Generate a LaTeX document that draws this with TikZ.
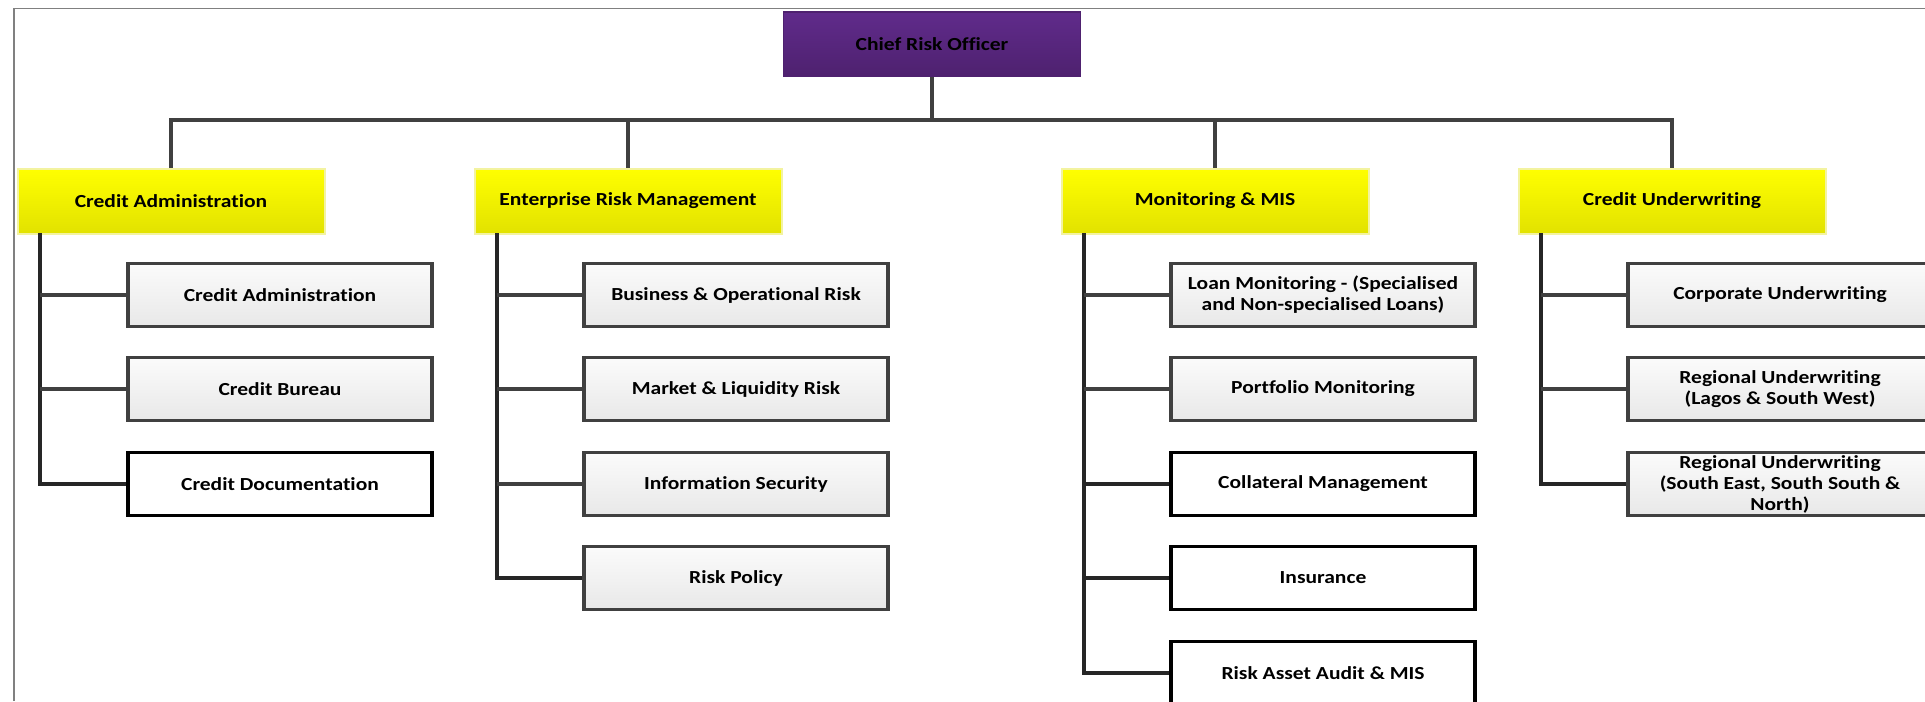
\documentclass[tikz,border=0pt]{standalone}
\usepackage{fontspec}
\setmainfont{Carlito}[FakeStretch=1.17,Ligatures=NoCommon]
\usepackage{tikz}
\definecolor{purpletop}{HTML}{602B8B}
\definecolor{purplebot}{HTML}{4E216F}
\definecolor{yellowtop}{HTML}{FFFF00}
\definecolor{yellowbot}{HTML}{E2E200}
\definecolor{yellowrim}{HTML}{F3F3A0}
\definecolor{graytop}{HTML}{FBFBFB}
\definecolor{graybot}{HTML}{E8E8E8}
\definecolor{linegray}{HTML}{404040}

\begin{document}
\begin{tikzpicture}[x=0.5pt,y=-0.5pt,
  font=\fontsize{9.2}{10.5}\selectfont\bfseries,
  officer/.style={minimum width=148.5pt,minimum height=32pt,inner sep=1pt,
    top color=purpletop,bottom color=purplebot,draw=purplebot,line width=0.6pt},
  dept/.style={minimum width=153.5pt,minimum height=32.5pt,inner sep=1pt,
    top color=yellowtop,bottom color=yellowbot,draw=yellowrim,line width=1pt},
  unit/.style={minimum width=152pt,minimum height=31.5pt,inner sep=1pt,align=center,
    top color=graytop,bottom color=graybot,draw=linegray,line width=1.7pt},
  plainunit/.style={unit,top color=white,bottom color=white,draw=black},
  link/.style={draw=linegray,line width=1.8pt},
  spine/.style={draw=black!85,line width=1.7pt}]
\useasboundingbox (0,0) rectangle (1925,701);
\clip (0,0) rectangle (1925,701);
\draw[gray,line width=0.8pt] (14,701) -- (14,8.5) -- (1925,8.5);

\node[officer] (cro) at (932,44) {Chief Risk Officer};

\node[dept] (ca)  at (171,201)  {Credit Administration};
\node[dept] (erm) at (628,201)  {Enterprise Risk Management};
\node[dept] (mon) at (1215,201) {Monitoring \& MIS};
\node[dept] (cu)  at (1672,201) {Credit Underwriting};

\coordinate (bus) at (932,120);
\draw[link] (cro.south) -- (bus);
\draw[link] (ca.north) |- (bus) -| (cu.north);
\draw[link] (erm.north) -- (erm.north |- bus);
\draw[link] (mon.north) -- (mon.north |- bus);

% credit administration
\node[unit] (ca1) at (280,295) {Credit Administration};
\node[unit] (ca2) at (280,389) {Credit Bureau};
\node[plainunit] (ca3) at (280,484) {Credit Documentation};

% enterprise risk management
\node[unit] (erm1) at (736,295) {Business \& Operational Risk};
\node[unit] (erm2) at (736,389) {Market \& Liquidity Risk};
\node[unit] (erm3) at (736,484) {Information Security};
\node[unit] (erm4) at (736,578) {Risk Policy};

% monitoring & MIS
\node[unit] (mon1) at (1323,295) {Loan Monitoring - (Specialised\\and Non-specialised Loans)};
\node[unit] (mon2) at (1323,389) {Portfolio Monitoring};
\node[plainunit] (mon3) at (1323,484) {Collateral Management};
\node[plainunit] (mon4) at (1323,578) {Insurance};
\node[plainunit] (mon5) at (1323,673) {Risk Asset Audit \& MIS};

% credit underwriting
\node[unit] (cu1) at (1780,295) {Corporate Underwriting};
\node[unit] (cu2) at (1780,389) {Regional Underwriting\\(Lagos \& South West)};
\node[unit] (cu3) at (1780,484) {Regional Underwriting\\(South East, South South \&\\North)};

\coordinate (casp)  at (40,233);
\coordinate (ermsp) at (497,233);
\coordinate (monsp) at (1084,233);
\coordinate (cusp)  at (1541,233);

\draw[spine] (casp) |- (ca3.west);
\draw[spine] (ermsp) |- (erm4.west);
\draw[spine] (monsp) |- (mon5.west);
\draw[spine] (cusp) |- (cu3.west);

\foreach \u/\s in {ca1/casp,ca2/casp,erm1/ermsp,erm2/ermsp,erm3/ermsp,mon1/monsp,mon2/monsp,cu1/cusp,cu2/cusp}
  \draw[link] (\u.west) -- (\u.west -| \s);
\foreach \u/\s in {mon3/monsp,mon4/monsp}
  \draw[spine] (\u.west) -- (\u.west -| \s);
\end{tikzpicture}
\end{document}
